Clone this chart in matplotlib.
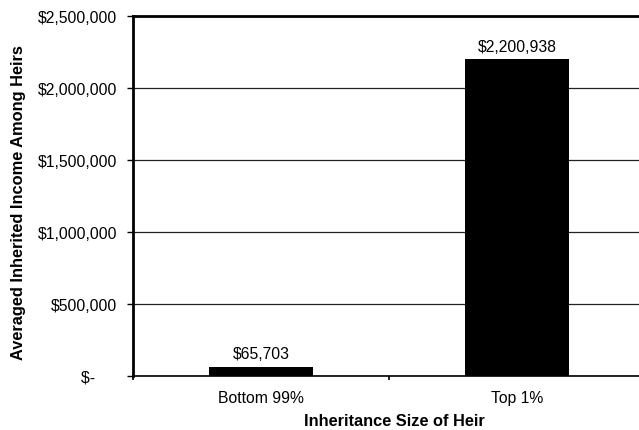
import matplotlib.pyplot as plt
from matplotlib.ticker import FuncFormatter, FixedLocator

plt.rcParams['font.family'] = ['Liberation Sans', 'DejaVu Sans']

categories = ["Bottom 99%", "Top 1%"]
values = [65703, 2200938]
y_ticks = [0, 500000, 1000000, 1500000, 2000000, 2500000]


def money(v, pos=None):
    if v == 0:
        # accounting style zero, padded like the other labels
        return "$-     "
    return "${:,.0f}".format(v)


fig = plt.figure(figsize=(6.39, 4.31), dpi=100)
# axes run past the right edge of the figure, so the right border is cut off
ax = fig.add_axes([133 / 639, 1 - 377 / 431, 512 / 639, 360 / 431])

x = range(len(categories))
ax.bar(x, values, width=0.41, color="black", zorder=3)
for xi, v in zip(x, values):
    ax.annotate(money(v), (xi, v), xytext=(0, 4), textcoords="offset points",
                ha="center", va="bottom", fontsize=11.3)

ax.set_xlim(-0.5, 1.5)
ax.set_ylim(0, 2500000)
ax.set_yticks(y_ticks)
ax.yaxis.set_major_formatter(FuncFormatter(money))
ax.grid(axis="y", color="#222222", linewidth=0.9, zorder=1)

ax.set_xticks(list(x))
ax.set_xticklabels(categories)
ax.xaxis.set_minor_locator(FixedLocator([-0.5, 0.5, 1.5]))
ax.tick_params(axis="x", which="major", length=0, pad=10, labelsize=11.3)
ax.tick_params(axis="x", which="minor", length=3, width=1.2, direction="out")
ax.tick_params(axis="y", length=4, width=1, pad=7.5, labelsize=11.3)

for side in ["top", "left"]:
    ax.spines[side].set_linewidth(2)
ax.spines["bottom"].set_linewidth(1.2)

# axis titles placed in figure pixels
fig.text(394 / 639, 1 - 422 / 431, "Inheritance Size of Heir",
         fontweight="bold", fontsize=11.8, ha="center", va="center")
fig.text(19 / 639, 1 - 203 / 431, "Averaged Inherited Income Among Heirs",
         fontweight="bold", fontsize=11.8, ha="center", va="center",
         rotation=90)

fig.savefig("out.png", dpi=100)
